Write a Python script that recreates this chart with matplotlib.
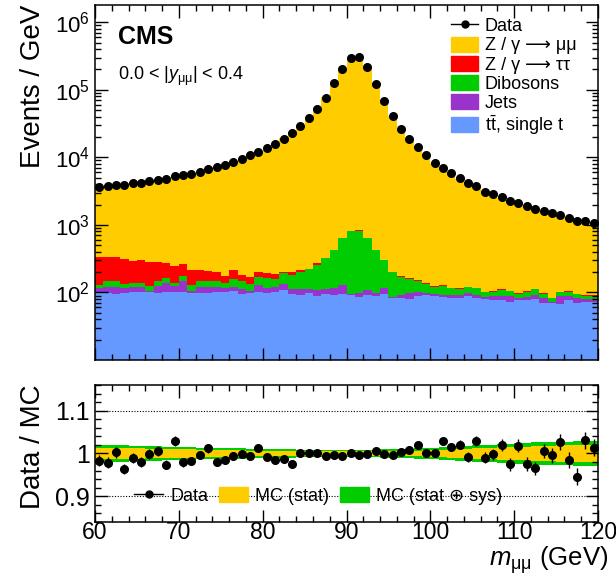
import numpy as np
import matplotlib
matplotlib.use("Agg")
import matplotlib.pyplot as plt
from matplotlib.lines import Line2D
from matplotlib.patches import Patch
from matplotlib.ticker import MultipleLocator, LogLocator, NullFormatter, FixedLocator

plt.rcParams["font.family"] = ["Liberation Sans", "DejaVu Sans"]
plt.rcParams["mathtext.fontset"] = "custom"
plt.rcParams["mathtext.rm"] = "Liberation Sans"
plt.rcParams["mathtext.it"] = "Liberation Sans:italic"
plt.rcParams["mathtext.bf"] = "Liberation Sans:bold"

# 1 GeV bins, 60-120 GeV
m_lo, m_hi = 60, 120

data = [3600, 3730, 3915, 3955, 4130, 4190, 4430, 4695, 4860, 5260,
        5520, 5710, 6120, 6620, 7090, 7780, 8630, 9570, 10700, 12160,
        13620, 16000, 19000, 22800, 29000, 37800, 52000, 76800, 124000, 204000,
        297000, 303000, 215000, 123000, 68500, 40500, 26400, 18800, 14000, 10700,
        8340, 7020, 5770, 4910, 4240, 3730, 3110, 2900, 2560, 2230,
        2130, 1920, 1730, 1620, 1510, 1400, 1270, 1160, 1150, 1080]

ttbar = [98, 98, 94, 98, 100, 100, 100, 98, 100, 101,
         100, 98, 98, 98, 101, 100, 103, 95, 98, 102,
         98, 101, 106, 95, 92, 97, 89, 93, 92, 95,
         90, 84, 92, 87, 94, 83, 82, 78, 89, 92,
         87, 85, 81, 82, 87, 81, 78, 76, 76, 72,
         76, 76, 80, 68, 68, 66, 75, 68, 72, 70]

jets = [18, 22, 25, 18, 20, 20, 4, 25, 38, 22,
        49, 6, 22, 22, 19, 16, 17, 17, 6, 26,
        18, 19, 26, 15, 20, 13, 19, 20, 23, 33,
        5, 13, 14, 10, 22, 1, 8, 19, 10, 4,
        7, 7, 10, 9, 10, 10, 7, 11, 13, 17,
        6, 9, 12, 14, 3, 22, 14, 14, 7, 8]

dibosons = [12, 26, 26, 18, 18, 18, 19, 26, 23, 15,
            24, 22, 29, 26, 26, 22, 38, 37, 30, 41,
            47, 38, 60, 72, 88, 108, 150, 207, 313, 515,
            727, 727, 530, 321, 188, 114, 80, 59, 47, 37,
            26, 31, 23, 22, 22, 25, 15, 15, 17, 14,
            12, 17, 18, 13, 11, 12, 13, 12, 10, 11]

tautau = [202, 184, 184, 182, 150, 163, 155, 129, 111, 110,
          93, 91, 63, 63, 54, 39, 54, 32, 35, 33,
          28, 29, 11, 18, 14, 7, 13, 5, 2, 3,
          3, 3, 3, 2, 2, 4, 5, 4, 4, 4,
          3, 3, 1, 1, 1, 1, 1, 1, 6, 1,
          3, 1, 1, 1, 1, 1, 1, 1, 1, 1]

ratio = [0.983, 0.978, 1.003, 0.963, 0.990, 0.980, 0.998, 1.006, 0.974, 1.029,
         0.979, 0.982, 0.997, 1.012, 0.979, 0.985, 0.993, 0.999, 0.995, 1.014,
         0.992, 0.984, 0.986, 0.975, 1.002, 1.002, 1.001, 0.994, 0.997, 0.995,
         1.002, 0.997, 0.998, 1.005, 0.998, 0.997, 1.003, 1.009, 1.019, 1.002,
         1.002, 1.029, 1.015, 1.021, 0.992, 1.030, 0.990, 0.998, 1.020, 0.975,
         1.018, 0.975, 0.965, 1.006, 0.996, 1.027, 0.985, 0.946, 1.031, 1.014]

ratio_err = [0.013, 0.013, 0.013, 0.012, 0.012, 0.012, 0.012, 0.011, 0.011, 0.011,
             0.011, 0.010, 0.010, 0.010, 0.009, 0.009, 0.008, 0.008, 0.007, 0.007,
             0.006, 0.006, 0.005, 0.005, 0.004, 0.004, 0.003, 0.003, 0.002, 0.002,
             0.001, 0.001, 0.002, 0.002, 0.003, 0.004, 0.005, 0.005, 0.006, 0.007,
             0.008, 0.009, 0.010, 0.011, 0.011, 0.012, 0.013, 0.013, 0.014, 0.015,
             0.015, 0.016, 0.016, 0.017, 0.018, 0.018, 0.019, 0.019, 0.020, 0.020]

# half-widths of the MC uncertainty bands
mc_stat = [0.013, 0.013, 0.013, 0.012, 0.012, 0.012, 0.011, 0.011, 0.011, 0.010,
           0.010, 0.010, 0.009, 0.009, 0.009, 0.008, 0.008, 0.008, 0.007, 0.007,
           0.007, 0.006, 0.006, 0.006, 0.006, 0.005, 0.005, 0.005, 0.005, 0.005,
           0.005, 0.005, 0.005, 0.005, 0.006, 0.006, 0.006, 0.007, 0.007, 0.008,
           0.009, 0.009, 0.010, 0.011, 0.011, 0.012, 0.013, 0.014, 0.015, 0.015,
           0.016, 0.016, 0.017, 0.018, 0.018, 0.019, 0.019, 0.020, 0.020, 0.021]
mc_tot = [0.020, 0.020, 0.019, 0.019, 0.018, 0.018, 0.017, 0.017, 0.016, 0.016,
          0.015, 0.015, 0.014, 0.014, 0.013, 0.013, 0.012, 0.012, 0.011, 0.011,
          0.011, 0.010, 0.010, 0.010, 0.009, 0.009, 0.009, 0.009, 0.008, 0.008,
          0.008, 0.008, 0.009, 0.009, 0.010, 0.010, 0.011, 0.011, 0.012, 0.013,
          0.014, 0.015, 0.016, 0.017, 0.018, 0.019, 0.020, 0.021, 0.022, 0.023,
          0.024, 0.025, 0.026, 0.027, 0.027, 0.028, 0.028, 0.029, 0.029, 0.030]

edges = np.arange(m_lo, m_hi + 1)
centers = edges[:-1] + 0.5
data = np.array(data, float)
ratio = np.array(ratio)
mc_total = data / ratio
bkg = [np.array(x, float) for x in (ttbar, jets, dibosons, tautau)]
zmumu = mc_total - sum(bkg)

c_mumu, c_tautau, c_vv, c_jets, c_tt = "#ffcc00", "#ff0000", "#00cc00", "#9933cc", "#6699ff"

fig = plt.figure(figsize=(6.16, 5.77), dpi=100)
ax1 = fig.add_axes([95 / 616, 1 - 360 / 577, 503 / 616, 355 / 577])
ax2 = fig.add_axes([95 / 616, 1 - 522 / 577, 503 / 616, 137 / 577])

# stacked MC, bottom to top
base = np.ones_like(data)
for vals, col in zip(bkg + [zmumu], [c_tt, c_jets, c_vv, c_tautau, c_mumu]):
    top = base + vals
    ax1.stairs(top, edges, baseline=base, fill=True, color=col, lw=0)
    base = top
ax1.plot(centers, data, "o", color="black", ms=5.5, zorder=5)

ax1.set_yscale("log")
ax1.set_ylim(10, 1.8e6)
ax1.set_xlim(m_lo, m_hi)
ax1.xaxis.set_major_locator(MultipleLocator(10))
ax1.xaxis.set_minor_locator(MultipleLocator(2))
ax1.set_xticklabels([])
ax1.yaxis.set_major_locator(FixedLocator([1e2, 1e3, 1e4, 1e5, 1e6]))
ax1.yaxis.set_minor_locator(LogLocator(base=10, subs=np.arange(2, 10), numticks=100))
ax1.yaxis.set_minor_formatter(NullFormatter())

ax1.text(0.045, 0.945, "CMS", transform=ax1.transAxes, fontsize=18,
         fontweight="bold", va="top")
ax1.text(0.045, 0.8, r"0.0 < |$y_{\mathrm{\mu\mu}}$| < 0.4", transform=ax1.transAxes,
         fontsize=13, va="center")

handles = [Line2D([], [], color="black", marker="o", ms=5, lw=1),
           Patch(color=c_mumu), Patch(color=c_tautau), Patch(color=c_vv),
           Patch(color=c_jets), Patch(color=c_tt)]
labels = ["Data", "Z / γ ⟶ μμ", "Z / γ ⟶ ττ", "Dibosons", "Jets",
          r"$\mathrm{t}\bar{\mathrm{t}}$, single t"]
ax1.legend(handles, labels, loc="upper left", bbox_to_anchor=(0.69, 0.99),
           frameon=False, fontsize=13, handlelength=1.5, handleheight=0.9,
           labelspacing=0.08, handletextpad=0.35, borderpad=0)

# ratio panel
ax2.stairs(1 + np.array(mc_tot), edges, baseline=1 - np.array(mc_tot),
           fill=True, color=c_vv, lw=0)
ax2.stairs(1 + np.array(mc_stat), edges, baseline=1 - np.array(mc_stat),
           fill=True, color=c_mumu, lw=0)
for yv in (0.9, 1.1):
    ax2.axhline(yv, color="black", ls=(0, (1, 1.5)), lw=0.8, zorder=0.5)
ax2.errorbar(centers, ratio, yerr=ratio_err, fmt="o", color="black", ms=5.5,
             elinewidth=1, capsize=0, zorder=5)
ax2.set_xlim(m_lo, m_hi)
ax2.set_ylim(0.84, 1.16)
ax2.xaxis.set_major_locator(MultipleLocator(10))
ax2.xaxis.set_minor_locator(MultipleLocator(2))
ax2.yaxis.set_major_locator(FixedLocator([0.9, 1.0, 1.1]))
ax2.yaxis.set_minor_locator(MultipleLocator(0.02))
ax2.set_yticklabels(["0.9", "1", "1.1"])

rh = [Line2D([], [], color="black", marker="o", ms=5, lw=1),
      Patch(color=c_mumu), Patch(color=c_vv)]
ax2.legend(rh, ["Data", "MC (stat)", "MC (stat ⊕ sys)"], loc="lower left",
           bbox_to_anchor=(0.06, 0.06), ncol=3, frameon=False, fontsize=13,
           handlelength=1.6, handleheight=0.9, handletextpad=0.4,
           columnspacing=0.6, borderpad=0)

for ax in (ax1, ax2):
    ax.tick_params(which="both", direction="in", top=True, right=True, width=1)
    ax.tick_params(which="major", length=9)
    ax.tick_params(which="minor", length=4.5)
    for sp in ax.spines.values():
        sp.set_linewidth(1.1)
ax1.tick_params(labelsize=16)
ax2.tick_params(axis="y", labelsize=18)
ax2.tick_params(axis="x", labelsize=16.5, pad=-1)

fig.text(33 / 616, 1 - 5 / 577, "Events / GeV", rotation=90, fontsize=20,
         ha="center", va="top")
fig.text(33 / 616, 1 - 384 / 577, "Data / MC", rotation=90, fontsize=20,
         ha="center", va="top")
fig.text(608 / 616, 1 - 566 / 577, r"$m_{\mathrm{\mu\mu}}$ (GeV)", fontsize=18.5,
         ha="right", va="baseline")

fig.savefig("out.png", dpi=100)
